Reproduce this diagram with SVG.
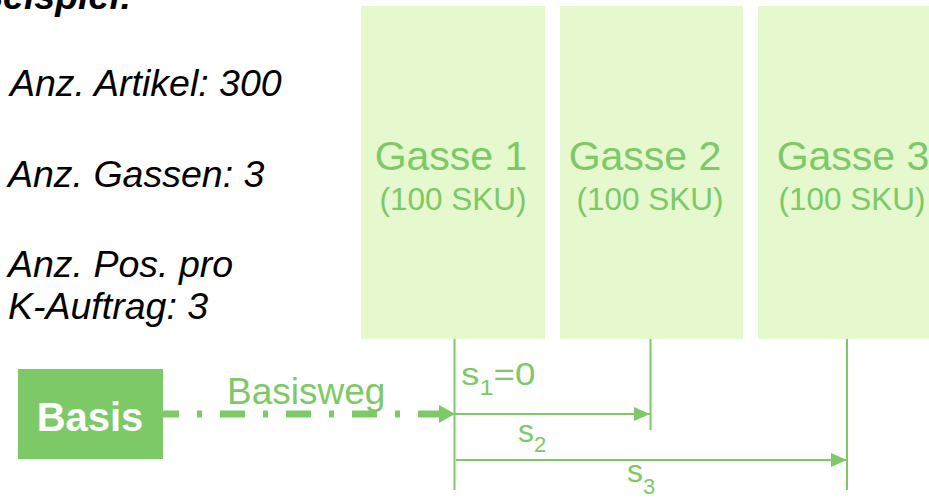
<svg xmlns="http://www.w3.org/2000/svg" width="929" height="500" viewBox="0 0 929 500">
<defs>
<style>
.lane{fill:#E6F8CE;}
.gt{font-family:"Liberation Sans",Arial,sans-serif;fill:#7DC967;text-anchor:middle;}
.note{font-family:"Liberation Sans",Arial,sans-serif;font-style:italic;font-size:37.5px;fill:#000;}
.lbl{font-family:"Liberation Sans",Arial,sans-serif;fill:#7DC967;}
.ln{stroke:#7DC967;stroke-width:2;fill:none;}
</style>
<marker id="ah" viewBox="0 0 16 14" refX="16" refY="7" markerWidth="16" markerHeight="14" markerUnits="userSpaceOnUse" orient="auto">
<path d="M0,0 L16,7 L0,14 Z" fill="#7DC967"/>
</marker>
<marker id="ahb" viewBox="0 0 16 18" refX="16" refY="9" markerWidth="16" markerHeight="18" markerUnits="userSpaceOnUse" orient="auto">
<path d="M0,0 L16,9 L0,18 Z" fill="#7DC967"/>
</marker>
</defs>
<rect width="929" height="500" fill="#fff"/>
<g id="notes">
<text class="note" x="-24" y="9" font-weight="bold">Beispiel:</text>
<text class="note" x="10" y="96">Anz. Artikel: 300</text>
<text class="note" x="8" y="187">Anz. Gassen: 3</text>
<text class="note" x="8" y="277">Anz. Pos. pro</text>
<text class="note" x="8" y="319">K-Auftrag: 3</text>
</g>
<g id="gasse1">
<rect class="lane" x="361" y="6" width="184" height="333"/>
<text class="gt" x="451" y="170" font-size="41">Gasse 1</text>
<text class="gt" x="453" y="210" font-size="31.5">(100 SKU)</text>
</g>
<g id="gasse2">
<rect class="lane" x="560" y="6" width="183" height="333"/>
<text class="gt" x="645" y="170" font-size="41">Gasse 2</text>
<text class="gt" x="650" y="210" font-size="31.5">(100 SKU)</text>
</g>
<g id="gasse3">
<rect class="lane" x="758" y="6" width="171" height="333"/>
<text class="gt" x="853" y="170" font-size="41">Gasse 3</text>
<text class="gt" x="852" y="210" font-size="31.5">(100 SKU)</text>
</g>
<g id="basis">
<rect x="18" y="369" width="145" height="90" fill="#7DC967"/>
<text x="90" y="431" font-family="'Liberation Sans',Arial,sans-serif" font-weight="bold" font-size="40" fill="#fff" text-anchor="middle">Basis</text>
</g>
<g id="connectors">
<line x1="163" y1="414" x2="455" y2="414" stroke="#7DC967" stroke-width="7" stroke-dasharray="25 18 5 18" stroke-dashoffset="9" marker-end="url(#ahb)"/>
<text class="lbl" x="227" y="404" font-size="37">Basisweg</text>
<line class="ln" x1="454.5" y1="339" x2="454.5" y2="490"/>
<line class="ln" x1="650.5" y1="339" x2="650.5" y2="430"/>
<line class="ln" x1="847" y1="339" x2="847" y2="490"/>
<line class="ln" x1="455" y1="414" x2="650" y2="414" marker-end="url(#ah)"/>
<line class="ln" x1="456" y1="460" x2="847" y2="460" marker-end="url(#ah)"/>
<text class="lbl" transform="translate(461,385) scale(1.15,1)" font-size="32">s<tspan font-size="22" dy="10">1</tspan><tspan dy="-10">=0</tspan></text>
<text class="lbl" x="518" y="442" font-size="32">s<tspan font-size="22" dy="10">2</tspan></text>
<text class="lbl" x="627" y="482" font-size="32">s<tspan font-size="22" dy="12">3</tspan></text>
</g>
</svg>
